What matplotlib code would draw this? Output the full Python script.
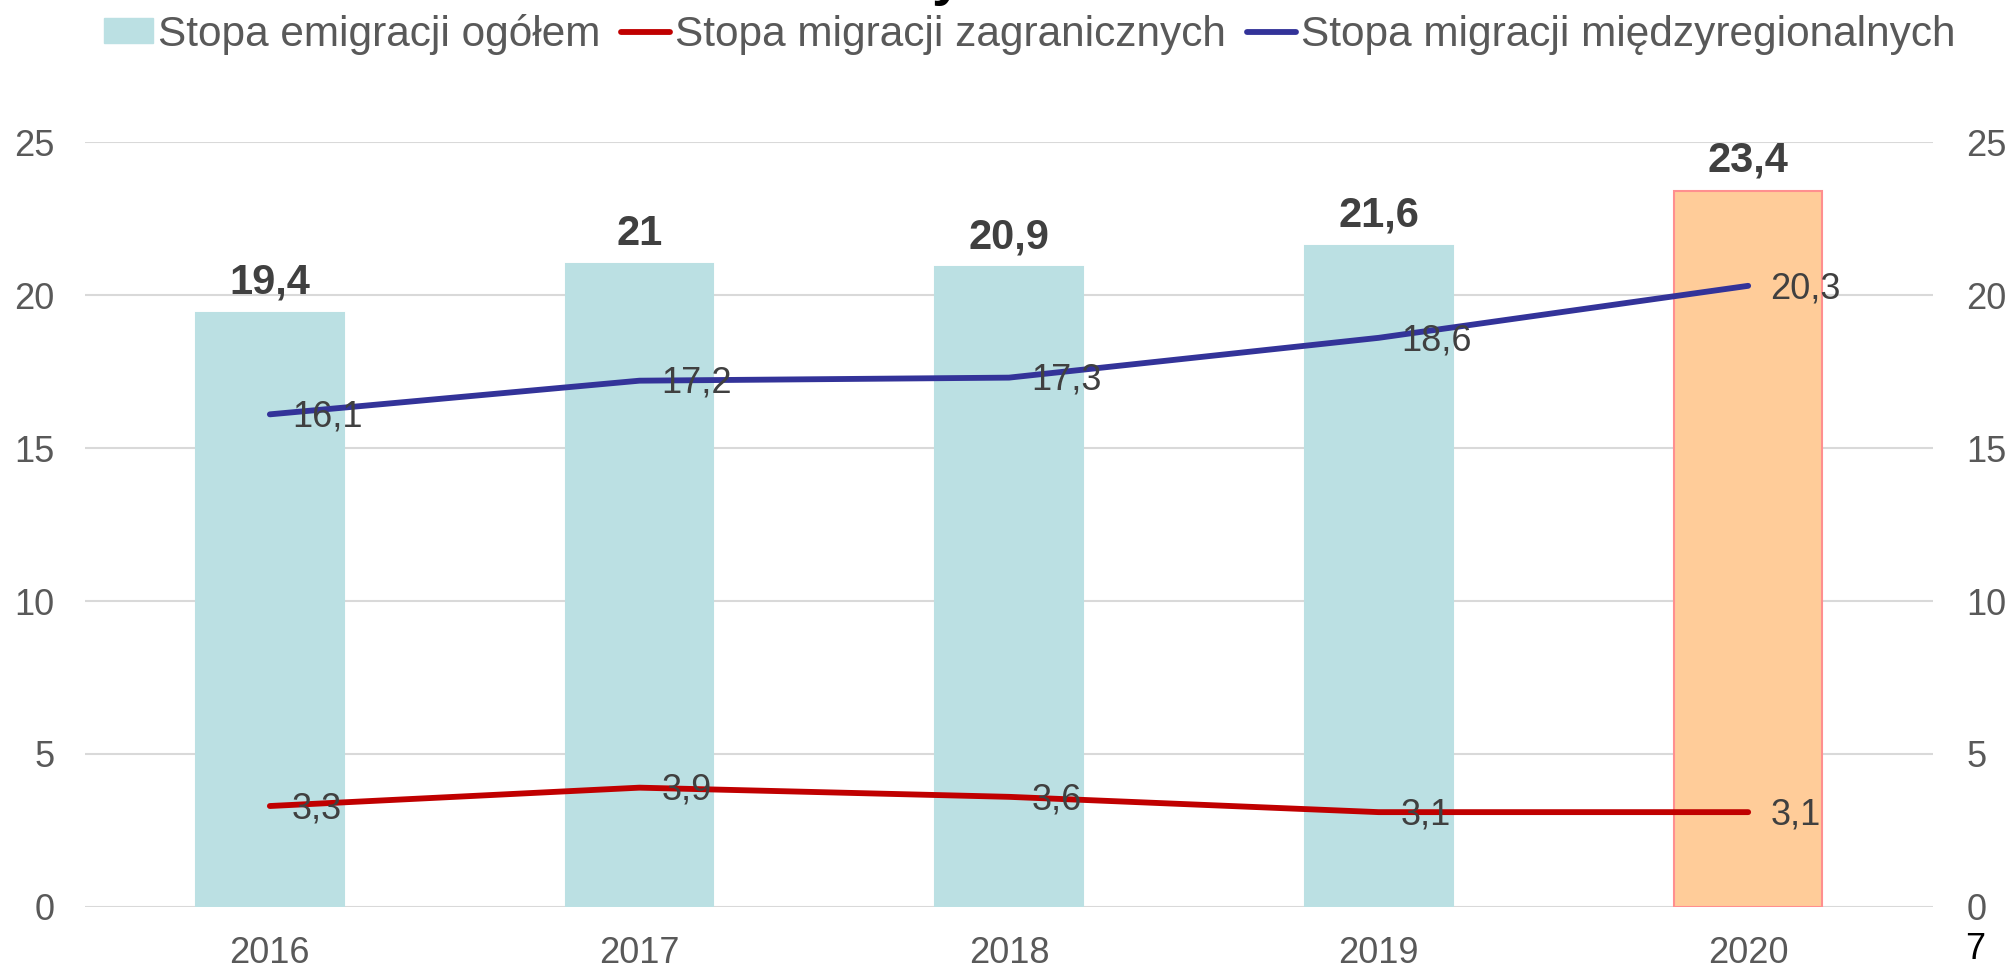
import matplotlib
matplotlib.use("Agg")
import matplotlib.pyplot as plt
import numpy as np
from matplotlib.lines import Line2D
from matplotlib.patches import Patch

plt.rcParams["font.family"] = ["Liberation Sans", "DejaVu Sans"]

# data
years = ["2016", "2017", "2018", "2019", "2020"]
emigracja_ogolem = [19.4, 21.0, 20.9, 21.6, 23.4]
migracja_zagraniczna = [3.3, 3.9, 3.6, 3.1, 3.1]
migracja_miedzyregionalna = [16.1, 17.2, 17.3, 18.6, 20.3]

bar_color = "#BBE0E3"
last_bar_color = "#FFCC99"
last_bar_edge = "#FF8F8F"
red = "#C00000"
blue = "#333399"
tick_gray = "#595959"
label_gray = "#404040"
grid_gray = "#D9D9D9"


def fmt(v):
    s = f"{v:.1f}".replace(".", ",")
    return s[:-2] if s.endswith(",0") else s


fig = plt.figure(figsize=(20.11, 9.76), dpi=100)
ax = fig.add_axes([0.0423, 0.0707, 0.9189, 0.7838])
x = np.arange(len(years))

colors = [bar_color] * (len(years) - 1) + [last_bar_color]
edges = [bar_color] * (len(years) - 1) + [last_bar_edge]
ax.bar(x, emigracja_ogolem, width=0.4, color=colors, edgecolor=edges, linewidth=1.5, zorder=2)

ax.plot(x, migracja_zagraniczna, color=red, lw=4.2, solid_capstyle="round", zorder=3)
ax.plot(x, migracja_miedzyregionalna, color=blue, lw=4.2, solid_capstyle="round", zorder=3)

# labels
for xi, v in zip(x, emigracja_ogolem):
    ax.annotate(fmt(v), (xi, v), xytext=(0, 14), textcoords="offset points",
                ha="center", va="baseline", fontsize=30, fontweight="bold", color=label_gray, zorder=4)
for series in (migracja_zagraniczna, migracja_miedzyregionalna):
    for xi, v in zip(x, series):
        ax.annotate(fmt(v), (xi, v), xytext=(16, -2), textcoords="offset points",
                    ha="left", va="center", fontsize=26, color=label_gray, zorder=4)

ax.set_xlim(-0.5, len(years) - 0.5)
ax.set_ylim(0, 25)
ax.set_yticks([0, 5, 10, 15, 20, 25])
ax.set_xticks(x)
ax.set_xticklabels(years)
ax.grid(axis="y", color=grid_gray, lw=1.5, zorder=0)
ax.set_axisbelow(True)
for s in ax.spines.values():
    s.set_visible(False)
ax.tick_params(axis="both", length=0, labelsize=26, labelcolor=tick_gray)
ax.tick_params(axis="y", pad=22)
ax.tick_params(axis="x", pad=21)

ax2 = ax.twinx()
ax2.set_ylim(0, 25)
ax2.set_yticks([0, 5, 10, 15, 20, 25])
for s in ax2.spines.values():
    s.set_visible(False)
ax2.tick_params(axis="y", length=0, labelsize=26, labelcolor=tick_gray, pad=24)

handles = [
    Patch(facecolor=bar_color, edgecolor=bar_color),
    Line2D([0], [0], color=red, lw=4.2, solid_capstyle="round"),
    Line2D([0], [0], color=blue, lw=4.2, solid_capstyle="round"),
]
labels = ["Stopa emigracji ogółem", "Stopa migracji zagranicznych", "Stopa migracji międzyregionalnych"]
fig.legend(handles, labels, loc="center", bbox_to_anchor=(0.512, 0.965), ncol=3, frameon=False,
           fontsize=30.5, labelcolor=tick_gray, handlelength=1.15, handleheight=0.55,
           handletextpad=0.12, columnspacing=0.5, borderpad=0)

# cut-off title fragment and page number
fig.text(0.471, 1.0 + 6 / 976, "y", ha="center", va="baseline", fontsize=40,
         fontweight="bold", color="black")
fig.text(0.982, 0.027, "7", ha="center", va="center", fontsize=26, color="black")

fig.savefig("out.png", dpi=100)
